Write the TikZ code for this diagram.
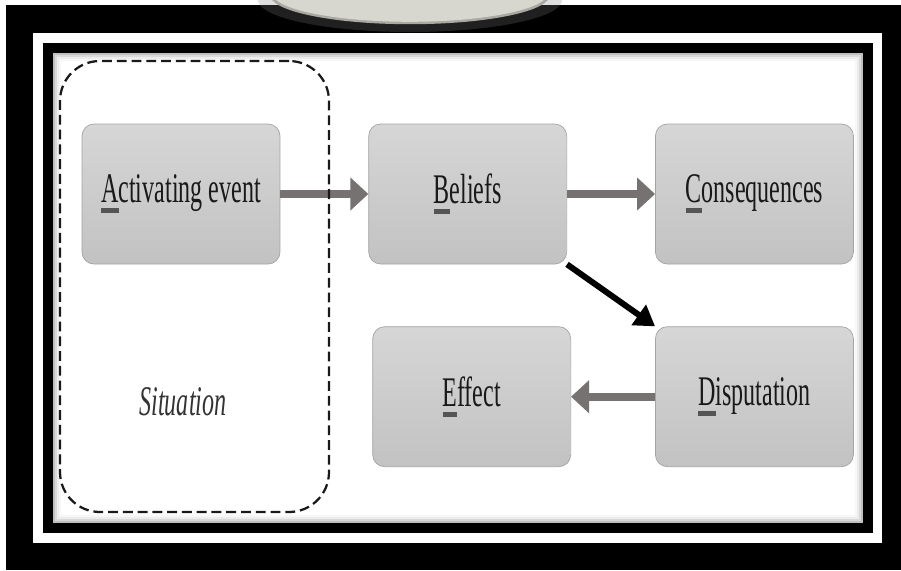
\documentclass[tikz,border=0pt]{standalone}
\usepackage{xcolor}
\usepackage{graphicx}
\usepackage{fontspec}
\setmainfont{Liberation Serif}
\usepackage{tikz}
\usetikzlibrary{positioning,arrows.meta}

\definecolor{boxtop}{HTML}{D6D6D6}
\definecolor{boxbot}{HTML}{C2C2C2}
\definecolor{boxline}{HTML}{A4A4A4}
\definecolor{flowgray}{HTML}{777272}
\definecolor{discface}{HTML}{D7D7CF}
\definecolor{discrim}{HTML}{A9A9A1}
\definecolor{uline}{HTML}{555555}

\newcommand{\firstl}[1]{\setbox0\hbox{#1}\rlap{\textcolor{uline}{\rule[-0.24em]{\wd0}{0.12em}}}#1}
\newcommand{\squeeze}[1]{\scalebox{0.57}[1]{#1}}

\begin{document}
\begin{tikzpicture}[
  node distance=2.2cm,
  stage/.style={rectangle, draw=boxline, line width=0.5pt, rounded corners=0.3cm, top color=boxtop, bottom color=boxbot, minimum width=4.95cm, minimum height=3.5cm, font=\fontsize{30}{34}\selectfont, text=black!90},
  flow/.style={-{Triangle[length=0.45cm,width=0.8cm]}, line width=0.2cm, flowgray},
  dispute/.style={-{Triangle[length=0.5cm,width=0.6cm]}, line width=0.15cm, black},
  situ/.style={rectangle, draw=black!90, line width=1.6pt, dash pattern=on 7pt off 3.5pt, rounded corners=1cm, minimum width=6.725cm, minimum height=11.275cm}
]
  \useasboundingbox (0,0) rectangle (22.525,-14.25);

  % Frame
  \fill[white] (0,0) rectangle (22.525,-14.25);
  \fill[black] (0.15,-0.125) rectangle (22.525,-14.25);
  \fill[white] (0.825,-0.825) rectangle (22.05,-13.575);
  \fill[black] (1.075,-1.075) rectangle (21.825,-13.325);
  \fill[gray!50] (1.325,-1.325) rectangle (21.575,-13.075);
  \fill[gray!30] (1.375,-1.375) rectangle (21.525,-13.025);
  \fill[gray!15] (1.425,-1.425) rectangle (21.475,-12.975);
  \fill[gray!6] (1.475,-1.475) rectangle (21.425,-12.925);
  \fill[white] (1.525,-1.525) rectangle (21.375,-12.875);

  % Disc at the top
  \fill[gray, opacity=0.25] (10.25,0) ellipse [x radius=3.8cm, y radius=0.8cm];
  \fill[discrim] (10.25,0.125) ellipse [x radius=3.5cm, y radius=0.73cm];
  \fill[discface] (10.25,0.175) ellipse [x radius=3.45cm, y radius=0.72cm];

  % Stages
  \node[stage] (evt) at (4.525,-4.85) {\squeeze{\firstl{A}ctivating event}};
  \node[stage, right=of evt] (bel) {\squeeze{\firstl{B}eliefs}};
  \node[stage, right=of bel] (con) {\squeeze{\firstl{C}onsequences}};
  \node[stage, below=1.55cm of con] (dis) {\squeeze{\firstl{D}isputation}};
  \node[stage, left=2.1cm of dis] (eff) {\squeeze{\firstl{E}ffect}};

  % Arrows
  \draw[flow] (evt) -- (bel);
  \draw[flow] (bel) -- (con);
  \draw[flow] (dis) -- (eff);
  \draw[dispute] (bel.south east) -- (dis.north west);

  % Situation
  \node[situ] (sit) at (4.8625,-7.1625) {};
  \node[font=\fontsize{30}{34}\selectfont\itshape, text=black!80] (sitlabel) at (4.575,-10.05) {\squeeze{Situation}};
\end{tikzpicture}
\end{document}
